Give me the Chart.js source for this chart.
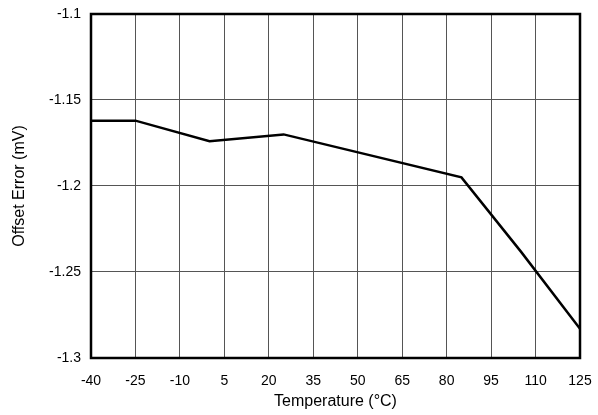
<!DOCTYPE html>
<html>
<head>
<meta charset="utf-8">
<script src="https://cdn.jsdelivr.net/npm/chart.js@4"></script>
<style>
  html, body { margin: 0; padding: 0; background: #fff; }
  #wrap { width: 598px; height: 415px; }
</style>
</head>
<body>
<div id="wrap"><canvas id="chart" width="598" height="415"></canvas></div>
<script>
// values
var temps = [-40, -25, 0, 25, 85, 105, 125];
var offsetErr = [-1.162, -1.162, -1.174, -1.17, -1.195, -1.238, -1.283];
var xTicks = [-40, -25, -10, 5, 20, 35, 50, 65, 80, 95, 110, 125];
var yTicks = [-1.3, -1.25, -1.2, -1.15, -1.1];

var font = "'Liberation Sans', Arial, sans-serif";

// thick frame around plot area
var frame = {
  id: "frame",
  afterDatasetsDraw: function (chart) {
    var a = chart.chartArea;
    var ctx = chart.ctx;
    ctx.save();
    ctx.strokeStyle = "#000";
    ctx.lineWidth = 2.5;
    ctx.strokeRect(a.left, a.top, a.right - a.left, a.bottom - a.top);
    ctx.restore();
  },
};

function noOverhang(s) {
  s.paddingLeft = 0;
  s.paddingRight = 0;
  s.paddingTop = 0;
  s.paddingBottom = 0;
}

var ctx = document.getElementById("chart").getContext("2d");
new Chart(ctx, {
  type: "line",
  data: {
    datasets: [
      {
        data: temps.map(function (t, i) { return { x: t, y: offsetErr[i] }; }),
        borderColor: "#000",
        borderWidth: 2.5,
        pointRadius: 0,
        tension: 0,
      },
    ],
  },
  options: {
    responsive: false,
    animation: false,
    layout: { padding: { left: 0, top: 14, right: 18, bottom: 0 } },
    plugins: { legend: { display: false }, tooltip: { enabled: false } },
    scales: {
      x: {
        type: "linear",
        min: -40,
        max: 125,
        afterBuildTicks: function (s) { s.ticks = xTicks.map(function (v) { return { value: v }; }); },
        afterFit: function (s) { s.height = 57; noOverhang(s); },
        grid: { color: "#555", lineWidth: 1, drawTicks: false },
        border: { display: false },
        ticks: { color: "#000", font: { family: font, size: 14 }, padding: 15, maxRotation: 0, autoSkip: false },
        title: { display: true, text: "Temperature (°C)", color: "#000", font: { family: font, size: 16 }, padding: { top: 0, bottom: 4 } },
      },
      y: {
        type: "linear",
        min: -1.3,
        max: -1.1,
        afterBuildTicks: function (s) { s.ticks = yTicks.map(function (v) { return { value: v }; }); },
        afterFit: function (s) { s.width = 91; noOverhang(s); },
        grid: { color: "#555", lineWidth: 1, drawTicks: false },
        border: { display: false },
        ticks: {
          color: "#000",
          font: { family: font, size: 14 },
          padding: 10,
          callback: function (v) { return String(Math.round(v * 100) / 100); },
        },
        title: { display: true, text: "Offset Error (mV)", color: "#000", font: { family: font, size: 16 }, padding: { top: 10, bottom: 0 } },
      },
    },
  },
  plugins: [frame],
});
</script>
</body>
</html>
